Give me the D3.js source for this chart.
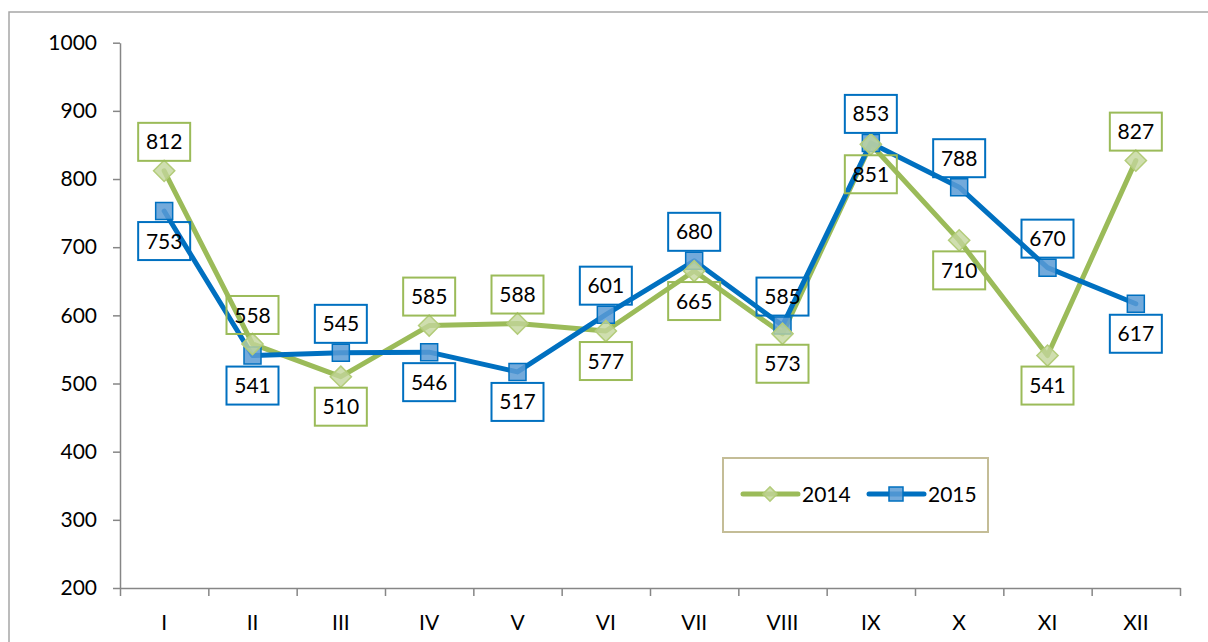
<!DOCTYPE html>
<html>
<head>
<meta charset="utf-8">
<script src="https://cdn.jsdelivr.net/npm/d3@7"></script>
<style>
  html, body { margin: 0; padding: 0; background: #fff; }
  svg { display: block; font-family: Lato, "Open Sans", sans-serif; }
</style>
</head>
<body>
<svg id="chart" width="1208" height="642"></svg>
<script>
const months = ["I","II","III","IV","V","VI","VII","VIII","IX","X","XI","XII"];
const values2014 = [812, 558, 510, 585, 588, 577, 665, 573, 851, 710, 541, 827];
const values2015 = [753, 541, 545, 546, 517, 601, 680, 585, 853, 788, 670, 617];
const place2014 = ["t","t","b","t","t","b","b","b","b","b","b","t"];
const place2015 = ["b","b","t","b","b","t","t","t","t","t","t","b"];
const yTicks = [200, 300, 400, 500, 600, 700, 800, 900, 1000];
const seriesNames = ["2014", "2015"];

(function () {
const GREEN = "#9BBB59", BLUE = "#0070C0";
const FS = 21;
const svg = d3.select("#chart");
const pLeft = 120, pRight = 1180, pTop = 42.7, pBottom = 588;

// outer frame
svg.append("path").attr("d", `M9,642 L9,12 L1208,12`)
  .attr("fill", "none").attr("stroke", "#a6a6a6").attr("stroke-width", 1.5);

const x = d3.scaleBand().domain(months).range([pLeft, pRight]);
const xEdge = d3.scaleLinear().domain([0, months.length]).range([pLeft, pRight]);
const y = d3.scaleLinear().domain([200, 1000]).range([pBottom, pTop]);
const cx = m => x(m) + x.bandwidth() / 2;

// y axis
const gy = svg.append("g").attr("transform", `translate(${pLeft},0)`)
  .call(d3.axisLeft(y).tickValues(yTicks).tickFormat(d3.format("d")).tickSize(7).tickPadding(16).tickSizeOuter(0));
gy.select(".domain").attr("stroke", "#868686").attr("stroke-width", 1.5);
gy.selectAll(".tick line").attr("stroke", "#868686").attr("stroke-width", 1.5);
gy.selectAll("text").attr("font-size", FS).attr("fill", "#000").attr("font-family", "Lato, sans-serif");

// x axis ticks at category boundaries
const gxe = svg.append("g").attr("transform", `translate(0,${pBottom})`)
  .call(d3.axisBottom(xEdge).tickValues(d3.range(months.length + 1)).tickSize(8).tickFormat("").tickSizeOuter(0));
gxe.select(".domain").attr("stroke", "#868686").attr("stroke-width", 1.5);
gxe.selectAll(".tick line").attr("stroke", "#868686").attr("stroke-width", 1.5);
// x labels
const gx = svg.append("g").attr("transform", `translate(0,${pBottom})`)
  .call(d3.axisBottom(x).tickSize(0).tickPadding(0));
gx.select(".domain").remove();
gx.selectAll("text").attr("font-size", FS).attr("fill", "#000").attr("font-family", "Lato, sans-serif")
  .attr("y", 42).attr("dy", 0);

const line = d3.line().x(d => cx(d.m)).y(d => y(d.v));
const data14 = months.map((m, i) => ({m, v: values2014[i], p: place2014[i]}));
const data15 = months.map((m, i) => ({m, v: values2015[i], p: place2015[i]}));

svg.append("path").datum(data14).attr("d", line).attr("fill", "none")
  .attr("stroke", GREEN).attr("stroke-width", 5).attr("stroke-linejoin", "round").attr("stroke-linecap", "round");
svg.append("path").datum(data15).attr("d", line).attr("fill", "none")
  .attr("stroke", BLUE).attr("stroke-width", 5).attr("stroke-linejoin", "round").attr("stroke-linecap", "round");

// markers
const sq = d3.symbol().type(d3.symbolSquare).size(17 * 17);
const dia = d3.symbol().type(d3.symbolSquare).size(15 * 15);
svg.selectAll(".m15").data(data15).join("path")
  .attr("d", sq).attr("transform", d => `translate(${cx(d.m)},${y(d.v)})`)
  .attr("fill", "#5B9BD5").attr("fill-opacity", 0.85).attr("stroke", BLUE).attr("stroke-width", 1.5);
svg.selectAll(".m14").data(data14).join("path")
  .attr("d", dia).attr("transform", d => `translate(${cx(d.m)},${y(d.v)}) rotate(45)`)
  .attr("fill", "#C3D69B").attr("fill-opacity", 0.8).attr("stroke", "#B3CC7A").attr("stroke-width", 1.5);

// data labels
function labels(data, color) {
  const g = svg.append("g").selectAll("g").data(data).join("g")
    .attr("transform", d => `translate(${cx(d.m)},${y(d.v) + (d.p === "t" ? -29 : 30)})`);
  g.append("rect").attr("x", -26).attr("y", -19).attr("width", 52).attr("height", 38)
    .attr("fill", "none").attr("stroke", color).attr("stroke-width", 2);
  g.append("text").attr("text-anchor", "middle").attr("dy", "0.36em")
    .attr("font-size", FS).attr("fill", "#000").text(d => d.v);
}
labels(data14, GREEN);
labels(data15, BLUE);

// legend
const lg = svg.append("g");
lg.append("rect").attr("x", 723).attr("y", 458).attr("width", 265).attr("height", 74)
  .attr("fill", "#fff").attr("stroke", "#C4BD97").attr("stroke-width", 2);
const items = [
  {name: seriesNames[0], color: GREEN, x0: 743, marker: "d"},
  {name: seriesNames[1], color: BLUE, x0: 869, marker: "s"}
];
items.forEach(it => {
  lg.append("line").attr("x1", it.x0).attr("x2", it.x0 + 55).attr("y1", 494).attr("y2", 494)
    .attr("stroke", it.color).attr("stroke-width", 5).attr("stroke-linecap", "round");
  if (it.marker === "d") {
    lg.append("path").attr("d", d3.symbol().type(d3.symbolSquare).size(10 * 10))
      .attr("transform", `translate(${it.x0 + 27},494) rotate(45)`)
      .attr("fill", "#C3D69B").attr("fill-opacity", 0.8).attr("stroke", "#B3CC7A").attr("stroke-width", 1.5);
  } else {
    lg.append("path").attr("d", d3.symbol().type(d3.symbolSquare).size(14 * 14))
      .attr("transform", `translate(${it.x0 + 27},494)`)
      .attr("fill", "#5B9BD5").attr("fill-opacity", 0.85).attr("stroke", BLUE).attr("stroke-width", 1.5);
  }
  lg.append("text").attr("x", it.x0 + 59).attr("y", 494).attr("dy", "0.36em")
    .attr("font-size", FS).attr("fill", "#000").text(it.name);
});
})();
</script>
</body>
</html>
